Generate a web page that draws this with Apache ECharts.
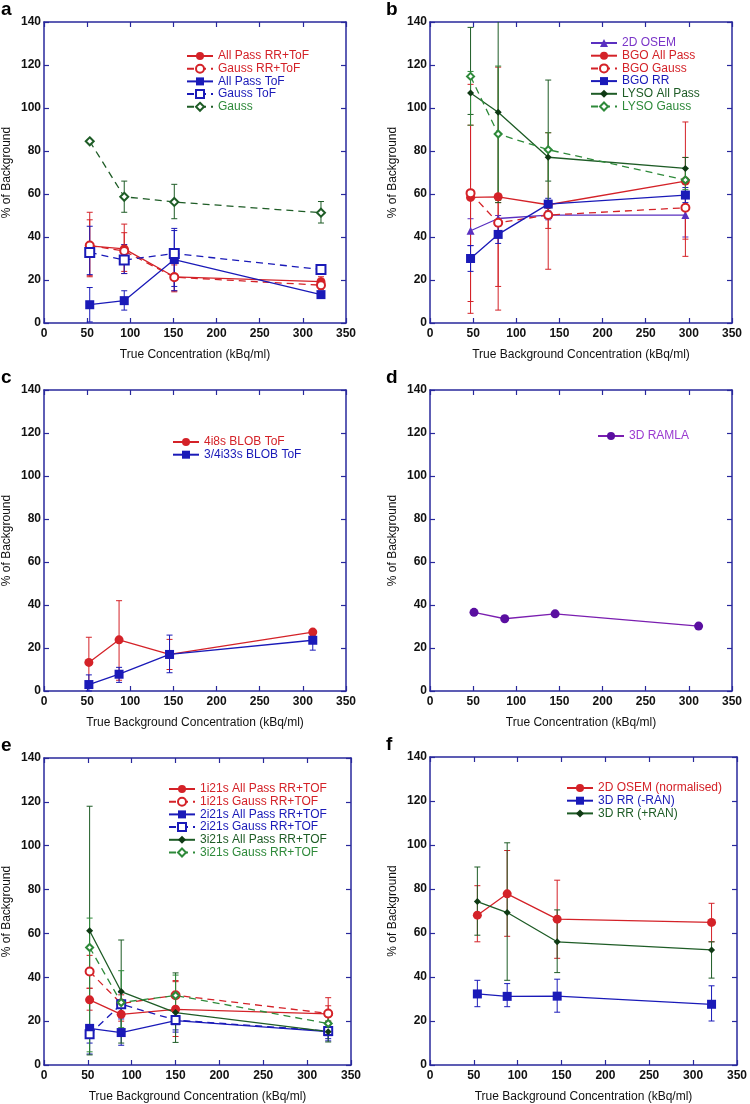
<!DOCTYPE html>
<html>
<head>
<meta charset="utf-8">
<script src="https://cdn.jsdelivr.net/npm/echarts/dist/echarts.min.js"></script>
<style>
  html, body { margin: 0; padding: 0; background: #fff; }
  #chart { width: 750px; height: 1104px; }
</style>
</head>
<body>
<div id="chart"></div>
<script>
// x ticks / y ticks shared by all six panels
var xTicks = [0, 50, 100, 150, 200, 250, 300, 350];
var yTicks = [0, 20, 40, 60, 80, 100, 120, 140];

// panel a
var aX = [53, 93, 151, 321];
var aAllPassRR = [35.9, 34.5, 21.5, 19.2];
var aAllPassRRErr = [[21.5, 51.5], [23, 46], [15, 28], [16.5, 21.5]];
var aGaussRR = [36, 33.5, 21.3, 17.6];
var aGaussRRErr = [[22, 48], [24, 42], [14.5, 27], [15.5, 20]];
var aAllPassToF = [8.5, 10.4, 29.5, 13.2];
var aAllPassToFErr = [[0.5, 16.5], [6, 15], [15, 44], [12, 14.5]];
var aGaussToF = [32.8, 29.3, 32.3, 24.9];
var aGaussToFErr = [[22.5, 45], [23, 36.5], [17, 43], [23, 27]];
var aGauss = [84.5, 58.7, 56.3, 51.3];
var aGaussErr = [[84, 85], [51.5, 66], [48.5, 64.5], [46.5, 56.5]];

// panel b
var bX = [47, 79, 137, 296];
var b2DOSEM = [42.9, 48.6, 50.2, 50.2];
var b2DOSEMErr = [[36, 48.5], [47, 50], [48, 52], [40, 60.5]];
var bBGOAll = [58.4, 58.7, 55, 66];
var bBGOAllErr = [[10, 111], [17, 119], [25, 88.5], [39, 93.5]];
var bBGOGauss = [60.4, 46.6, 50.2, 53.6];
var bBGOGaussErr = [[4.5, 92], [6, 56], [44, 56], [31, 77]];
var bBGORR = [30, 41.2, 55.3, 59.5];
var bBGORRErr = [[24, 36], [37, 45], [52, 58], [56, 63]];
var bLYSOAll = [107, 98, 77.1, 71.9];
var bLYSOAllErr = [[97, 137.5], [56, 145], [66, 113], [67, 77]];
var bLYSOGauss = [114.7, 87.9, 80.6, 66.5];
var bLYSOGaussErr = [[92, 117], [57, 119.5], [49, 88.5], [62, 72]];

// panel c
var cX = [52, 87, 145.5, 311.5];
var c4i8s = [13.3, 23.8, 17, 27.4];
var c4i8sErr = [[1.5, 25], [5, 42], [10, 24], [26, 28.5]];
var c34i33s = [3, 7.8, 17, 23.6];
var c34i33sErr = [[0, 7.5], [4, 11], [8.5, 26], [19, 27]];

// panel d
var dX = [51, 86.6, 145, 311.3];
var dRamla = [36.6, 33.6, 35.9, 30.2];

// panel e
var eX = [52, 88, 150, 324];
var e1All = [29.7, 23.1, 25.4, 23.3];
var e1AllErr = [[25, 35], [20, 27], [13, 38], [16.5, 30.7]];
var e1Gauss = [42.6, 28, 31.8, 23.5];
var e1GaussErr = [[35, 50], [24, 32], [25, 38.5], [20, 27]];
var e2All = [16.7, 14.8, 20.2, 15.2];
var e2AllErr = [[5, 29], [9, 21], [15, 26], [11, 19]];
var e2Gauss = [14, 27.7, 20.5, 15.5];
var e2GaussErr = [[10, 18], [22, 33], [16, 25], [12, 19]];
var e3All = [61.2, 33.5, 23.9, 15.2];
var e3AllErr = [[4.6, 118], [10, 57], [10.3, 42], [10.5, 20]];
var e3Gauss = [53.6, 28.5, 31.7, 18.9];
var e3GaussErr = [[6, 67], [17, 43], [22, 41], [16, 22]];

// panel f
var fX = [54, 88, 145, 321];
var f2DOSEM = [68.1, 77.8, 66.3, 64.8];
var f2DOSEMErr = [[56, 81.5], [58.5, 97.5], [48.5, 84], [56, 73.5]];
var fRRminus = [32.3, 31.2, 31.3, 27.6];
var fRRminusErr = [[26.5, 38.5], [26.5, 37], [24, 39], [20, 36]];
var fRRplus = [74.3, 69.3, 56, 52.3];
var fRRplusErr = [[59, 90], [38.5, 101], [42, 70.5], [39.5, 56]];

var RED = '#d42228';
var BLUE = '#1a1ab8';
var DKGREEN = '#1e5c26';
var GREEN = '#2e8a3a';
var VIOLET = '#5a30c0';
var PURPLE = '#7a1eb0';
var NAVY = '#28289c';
var FONT = '"Liberation Sans", Arial, sans-serif';

// where each panel sits on the page
var panels = [
    { letter: 'a', left: 44, top: 22, width: 302, height: 301, xName: 'True Concentration (kBq/ml)' },
    { letter: 'b', left: 430, top: 22, width: 302, height: 301, xName: 'True Background Concentration (kBq/ml)' },
    { letter: 'c', left: 43, top: 390, width: 303, height: 301, xName: 'True Background Concentration (kBq/ml)' },
    { letter: 'd', left: 430, top: 390, width: 302, height: 301, xName: 'True Concentration (kBq/ml)' },
    { letter: 'e', left: 44, top: 758, width: 307, height: 307, xName: 'True Background Concentration (kBq/ml)' },
    { letter: 'f', left: 430, top: 757, width: 308, height: 308, xName: 'True Background Concentration (kBq/ml)' }
];

var grids = [], xAxes = [], yAxes = [], series = [], legends = [], titles = [];

panels.forEach(function (p, i) {
    grids.push({ left: p.left, top: p.top, width: p.width, height: p.height });
    var line = { show: true, onZero: false, lineStyle: { color: NAVY, width: 1.5 } };
    var tick = { show: true, inside: true, length: 5, lineStyle: { color: NAVY, width: 1.2 } };
    // bottom axis with labels, top axis only for the box and ticks
    xAxes.push({
        type: 'value', gridIndex: i, min: xTicks[0], max: xTicks[xTicks.length - 1], interval: xTicks[1] - xTicks[0],
        axisLine: line, axisTick: tick, splitLine: { show: false },
        axisLabel: { color: '#111', fontSize: 12, fontWeight: 'bold', fontFamily: FONT, margin: 5 },
        name: p.xName, nameLocation: 'middle', nameGap: 26,
        nameTextStyle: { color: '#111', fontSize: 12, fontFamily: FONT }
    });
    xAxes.push({
        type: 'value', gridIndex: i, position: 'top', min: xTicks[0], max: xTicks[xTicks.length - 1], interval: xTicks[1] - xTicks[0],
        axisLine: line, axisTick: tick, splitLine: { show: false }, axisLabel: { show: false }
    });
    yAxes.push({
        type: 'value', gridIndex: i, min: yTicks[0], max: yTicks[yTicks.length - 1], interval: yTicks[1] - yTicks[0],
        axisLine: line, axisTick: tick, splitLine: { show: false },
        axisLabel: { color: '#111', fontSize: 12, fontWeight: 'bold', fontFamily: FONT, margin: 3 },
        name: '% of Background', nameLocation: 'middle', nameGap: 31,
        nameTextStyle: { color: '#111', fontSize: 12, fontFamily: FONT }
    });
    yAxes.push({
        type: 'value', gridIndex: i, position: 'right', min: yTicks[0], max: yTicks[yTicks.length - 1], interval: yTicks[1] - yTicks[0],
        axisLine: line, axisTick: tick, splitLine: { show: false }, axisLabel: { show: false }
    });
    titles.push({
        text: p.letter, left: p.left < 300 ? 1 : 386, top: p.top - 22, padding: 0,
        textStyle: { fontSize: 19, fontWeight: 'bold', color: '#000', fontFamily: FONT }
    });
});

// line + markers
function lineSeries(panel, name, xs, ys, color, symbol, size, dashed, symColor) {
    return {
        type: 'line', name: name, xAxisIndex: panel * 2, yAxisIndex: panel * 2,
        data: xs.map(function (x, k) { return [x, ys[k]]; }),
        symbol: symbol, symbolSize: size, z: 3,
        lineStyle: { color: color, width: 1.3, type: dashed ? [7, 5] : 'solid' },
        itemStyle: { color: symColor || color, borderWidth: symbol.indexOf('empty') === 0 ? 1.3 : 0 }
    };
}

// error bars drawn as custom series
function errSeries(panel, name, xs, errs, color) {
    return {
        type: 'custom', name: name + ' (err)', xAxisIndex: panel * 2, yAxisIndex: panel * 2,
        data: xs.map(function (x, k) { return [x, errs[k][0], errs[k][1]]; }),
        encode: { x: 0, y: [1, 2] }, silent: true, z: 2,
        renderItem: function (params, api) {
            var lo = api.coord([api.value(0), api.value(1)]);
            var hi = api.coord([api.value(0), api.value(2)]);
            var cs = params.coordSys;
            var top = Math.max(hi[1], cs.y);
            var st = { stroke: color, lineWidth: 1 };
            var kids = [
                { type: 'line', shape: { x1: lo[0], y1: lo[1], x2: hi[0], y2: top }, style: st },
                { type: 'line', shape: { x1: lo[0] - 3, y1: lo[1], x2: lo[0] + 3, y2: lo[1] }, style: st }
            ];
            if (hi[1] >= cs.y) kids.push({ type: 'line', shape: { x1: hi[0] - 3, y1: hi[1], x2: hi[0] + 3, y2: hi[1] }, style: st });
            return { type: 'group', children: kids };
        }
    };
}

function add(panel, name, xs, ys, errs, color, symbol, size, dashed, symColor) {
    if (errs) series.push(errSeries(panel, name, xs, errs, color));
    series.push(lineSeries(panel, name, xs, ys, color, symbol, size, dashed, symColor));
}

// a
add(0, 'All Pass RR+ToF', aX, aAllPassRR, aAllPassRRErr, RED, 'circle', 9, false);
add(0, 'Gauss RR+ToF', aX, aGaussRR, aGaussRRErr, RED, 'emptyCircle', 8, true);
add(0, 'All Pass ToF', aX, aAllPassToF, aAllPassToFErr, BLUE, 'rect', 9, false);
add(0, 'Gauss ToF', aX, aGaussToF, aGaussToFErr, BLUE, 'emptyRect', 9, true);
add(0, 'Gauss', aX, aGauss, aGaussErr, DKGREEN, 'emptyDiamond', 8, true);
// b
add(1, '2D OSEM', bX, b2DOSEM, b2DOSEMErr, VIOLET, 'triangle', 8, false);
add(1, 'BGO All Pass', bX, bBGOAll, bBGOAllErr, RED, 'circle', 9, false);
add(1, 'BGO Gauss', bX, bBGOGauss, bBGOGaussErr, RED, 'emptyCircle', 8, true);
add(1, 'BGO RR', bX, bBGORR, bBGORRErr, BLUE, 'rect', 9, false);
add(1, 'LYSO All Pass', bX, bLYSOAll, bLYSOAllErr, DKGREEN, 'diamond', 7, false, '#0f3a14');
add(1, 'LYSO Gauss', bX, bLYSOGauss, bLYSOGaussErr, GREEN, 'emptyDiamond', 7, true);
// c
add(2, '4i8s BLOB ToF', cX, c4i8s, c4i8sErr, RED, 'circle', 9, false);
add(2, '3/4i33s BLOB ToF', cX, c34i33s, c34i33sErr, BLUE, 'rect', 9, false);
// d
add(3, '3D RAMLA', dX, dRamla, null, PURPLE, 'circle', 9, false, '#5a0fa0');
// e
add(4, '1i21s All Pass RR+TOF', eX, e1All, e1AllErr, RED, 'circle', 9, false);
add(4, '1i21s Gauss RR+TOF', eX, e1Gauss, e1GaussErr, RED, 'emptyCircle', 8, true);
add(4, '2i21s All Pass RR+TOF', eX, e2All, e2AllErr, BLUE, 'rect', 9, false);
add(4, '2i21s Gauss RR+TOF', eX, e2Gauss, e2GaussErr, BLUE, 'emptyRect', 8, true);
add(4, '3i21s All Pass RR+TOF', eX, e3All, e3AllErr, DKGREEN, 'diamond', 7, false, '#0f3a14');
add(4, '3i21s Gauss RR+TOF', eX, e3Gauss, e3GaussErr, GREEN, 'emptyDiamond', 7, true);
// f
add(5, '2D OSEM (normalised)', fX, f2DOSEM, f2DOSEMErr, RED, 'circle', 9, false);
add(5, '3D RR (-RAN)', fX, fRRminus, fRRminusErr, BLUE, 'rect', 9, false);
add(5, '3D RR (+RAN)', fX, fRRplus, fRRplusErr, DKGREEN, 'diamond', 7, false, '#0f3a14');

// one legend box per panel
function legend(left, top, items) {
    return {
        orient: 'vertical', left: left, top: top, padding: 0, selectedMode: false,
        itemWidth: 26, itemHeight: 10, itemGap: 0.7,
        textStyle: { fontSize: 12, fontFamily: FONT },
        data: items.map(function (it) { return { name: it[0], textStyle: { color: it[1] } }; })
    };
}
legends.push(legend(186, 50, [['All Pass RR+ToF', RED], ['Gauss RR+ToF', RED], ['All Pass ToF', BLUE], ['Gauss ToF', BLUE], ['Gauss', GREEN]]));
legends.push(legend(590, 37, [['2D OSEM', '#7a35c8'], ['BGO All Pass', RED], ['BGO Gauss', RED], ['BGO RR', BLUE], ['LYSO All Pass', DKGREEN], ['LYSO Gauss', GREEN]]));
legends.push(legend(172, 436, [['4i8s BLOB ToF', RED], ['3/4i33s BLOB ToF', BLUE]]));
legends.push(legend(597, 430, [['3D RAMLA', '#9a3ad0']]));
legends.push(legend(168, 783, [['1i21s All Pass RR+TOF', RED], ['1i21s Gauss RR+TOF', RED], ['2i21s All Pass RR+TOF', BLUE], ['2i21s Gauss RR+TOF', BLUE], ['3i21s All Pass RR+TOF', DKGREEN], ['3i21s Gauss RR+TOF', GREEN]]));
legends.push(legend(566, 782, [['2D OSEM (normalised)', RED], ['3D RR (-RAN)', BLUE], ['3D RR (+RAN)', DKGREEN]]));

var myChart = echarts.init(document.getElementById('chart'));
myChart.setOption({
    backgroundColor: '#fff',
    animation: false,
    title: titles,
    grid: grids,
    xAxis: xAxes,
    yAxis: yAxes,
    legend: legends,
    series: series
});
</script>
</body>
</html>
